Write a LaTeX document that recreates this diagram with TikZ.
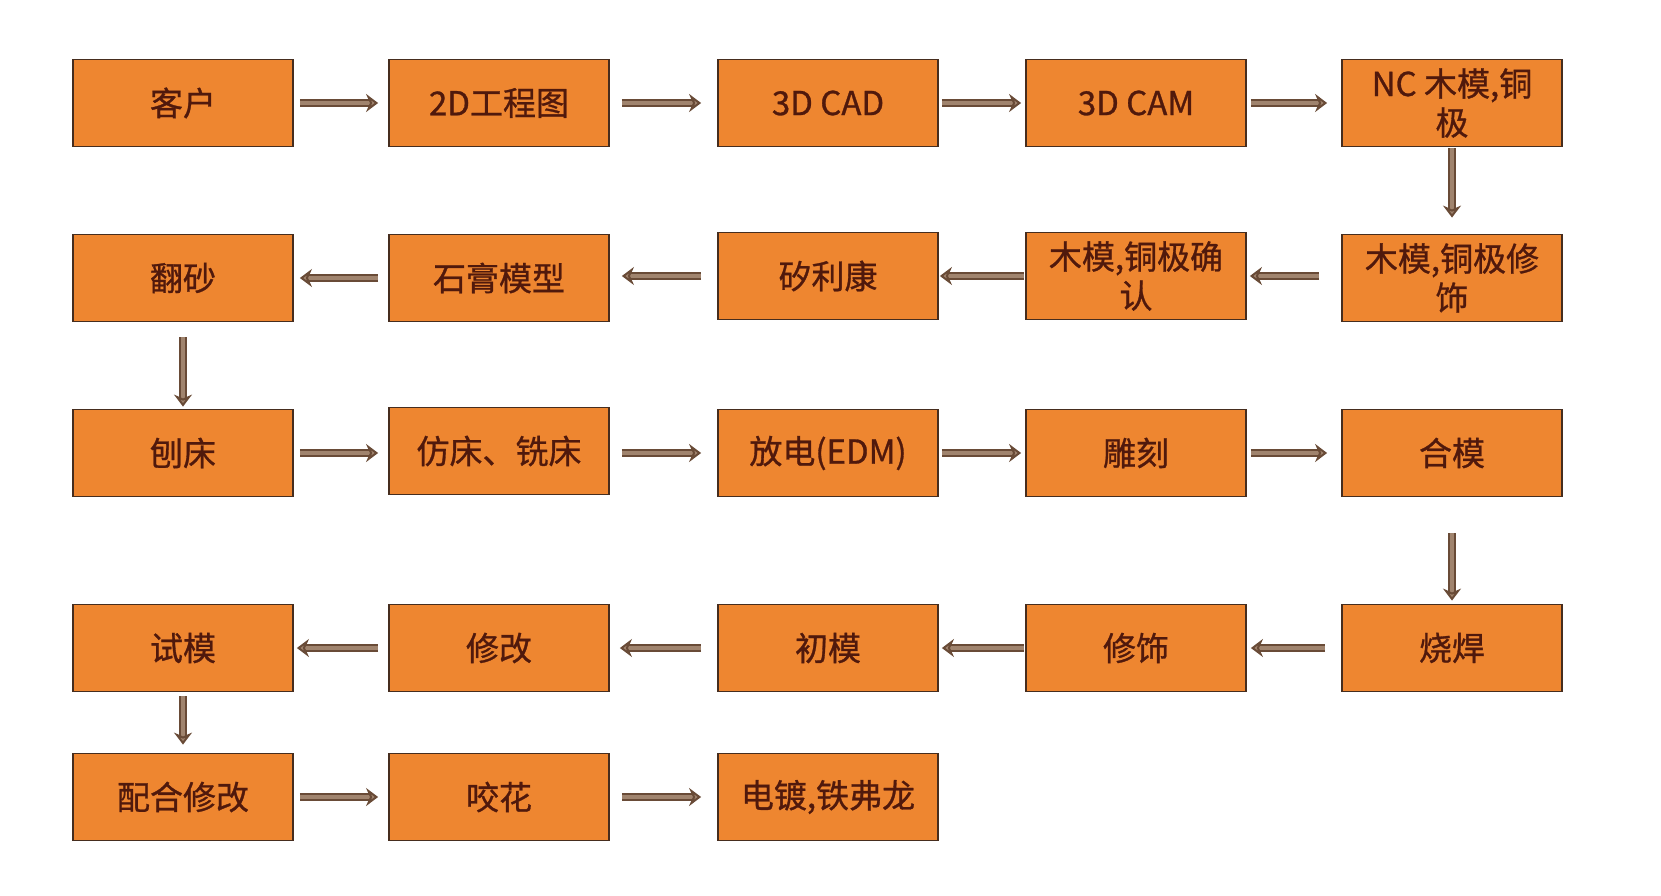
\documentclass[tikz,border=0pt]{standalone}
\usepackage{fontspec}
\setmainfont{Noto Sans CJK SC}[FakeBold=0.9]
\usetikzlibrary{arrows.meta}
\definecolor{boxfill}{RGB}{238,134,48}
\definecolor{boxline}{RGB}{70,45,30}
\definecolor{txtc}{RGB}{80,25,12}
\definecolor{arrc}{RGB}{105,75,55}
\definecolor{arrin}{RGB}{160,132,110}
\tikzset{
  stepbox/.style={draw=boxline, line width=1.8pt, fill=boxfill, minimum width=220pt, minimum height=87pt, inner sep=0pt, text=txtc, font=\fontsize{33}{39}\selectfont, align=center},
  arr/.style={draw=arrc, line width=2pt, double=arrin, double distance=3.5pt, -{Stealth[length=12pt,width=18pt,fill=arrin]}},
}
\begin{document}
\begin{tikzpicture}[x=1pt,y=-1pt]
\useasboundingbox[fill=white] (0,0) rectangle (1661,896);
% row 1
\node[stepbox] (n1) at (183,103) {客户};
\node[stepbox] (n2) at (499,103) {2D工程图};
\node[stepbox] (n3) at (828,103) {3D CAD};
\node[stepbox] (n4) at (1136,103) {3D CAM};
\node[stepbox] (n5) at (1452,103) {NC 木模,铜\\极};
% row 2
\node[stepbox] (m5) at (1452,278) {木模,铜极修\\饰};
\node[stepbox] (m4) at (1136,276) {木模,铜极确\\认};
\node[stepbox] (m3) at (828,276) {矽利康};
\node[stepbox] (m2) at (499,278) {石膏模型};
\node[stepbox] (m1) at (183,278) {翻砂};
% row 3
\node[stepbox] (p1) at (183,453) {刨床};
\node[stepbox] (p2) at (499,451) {仿床、铣床};
\node[stepbox] (p3) at (828,453) {放电(EDM)};
\node[stepbox] (p4) at (1136,453) {雕刻};
\node[stepbox] (p5) at (1452,453) {合模};
% row 4
\node[stepbox] (q5) at (1452,648) {烧焊};
\node[stepbox] (q4) at (1136,648) {修饰};
\node[stepbox] (q3) at (828,648) {初模};
\node[stepbox] (q2) at (499,648) {修改};
\node[stepbox] (q1) at (183,648) {试模};
% row 5
\node[stepbox] (s1) at (183,797) {配合修改};
\node[stepbox] (s2) at (499,797) {咬花};
\node[stepbox] (s3) at (828,797) {电镀,铁弗龙};
% arrows row 1
\draw[arr, shorten <=6pt, shorten >=10pt] (n1.east) -- (n2.west);
\draw[arr, shorten <=12pt, shorten >=16pt] (n2.east) -- (n3.west);
\draw[arr, shorten <=3pt, shorten >=4pt] (n3.east) -- (n4.west);
\draw[arr, shorten <=4pt, shorten >=14pt] (n4.east) -- (n5.west);
\draw[arr, shorten <=1pt, shorten >=16pt] (n5.south) -- (m5.north);
% arrows row 2
\draw[arr, shorten <=22pt, shorten >=3pt] (m5.west |- m4.east) -- (m4.east);
\draw[arr, shorten <=1pt, shorten >=1pt] (m4.west) -- (m3.east);
\draw[arr, shorten <=16pt, shorten >=12pt] (m3.west) -- (m2.east |- m3.west);
\draw[arr, shorten <=10pt, shorten >=6pt] (m2.west) -- (m1.east);
\draw[arr, shorten <=15pt, shorten >=2pt] (m1.south) -- (p1.north);
% arrows row 3
\draw[arr, shorten <=6pt, shorten >=10pt] (p1.east) -- (p2.west |- p1.east);
\draw[arr, shorten <=12pt, shorten >=16pt] (p2.east |- p3.west) -- (p3.west);
\draw[arr, shorten <=3pt, shorten >=4pt] (p3.east) -- (p4.west);
\draw[arr, shorten <=4pt, shorten >=14pt] (p4.east) -- (p5.west);
\draw[arr, shorten <=36pt, shorten >=3pt] (p5.south) -- (q5.north);
% arrows row 4
\draw[arr, shorten <=16pt, shorten >=4pt] (q5.west) -- (q4.east);
\draw[arr, shorten <=1pt, shorten >=3pt] (q4.west) -- (q3.east);
\draw[arr, shorten <=16pt, shorten >=10pt] (q3.west) -- (q2.east);
\draw[arr, shorten <=10pt, shorten >=3pt] (q2.west) -- (q1.east);
\draw[arr, shorten <=4pt, shorten >=8pt] (q1.south) -- (s1.north);
% arrows row 5
\draw[arr, shorten <=6pt, shorten >=10pt] (s1.east) -- (s2.west);
\draw[arr, shorten <=12pt, shorten >=16pt] (s2.east) -- (s3.west);
\end{tikzpicture}
\end{document}
